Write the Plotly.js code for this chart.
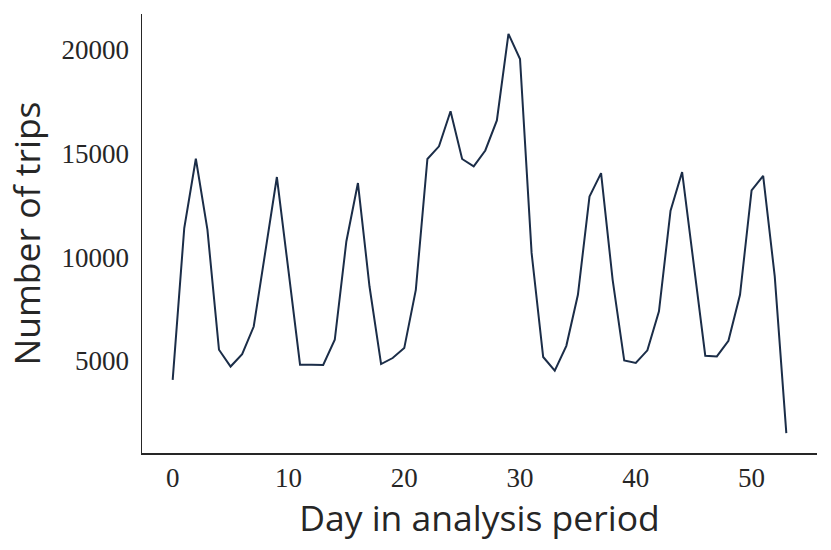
<!DOCTYPE html>
<html>
<head>
<meta charset="utf-8">
<script src="https://cdn.plot.ly/plotly-3.0.1.min.js"></script>
<style>html,body{margin:0;padding:0;background:#fff;}#chart{width:831px;height:550px;}</style>
</head>
<body>
<div id="chart"></div>
<script>
const days = [];
for (let i = 0; i <= 53; i++) days.push(i);
const trips = [
  4080, 11400, 14740, 11320, 5530, 4720, 5320, 6650, 10250, 13860,
  9340, 4810, 4810, 4800, 6010, 10750, 13570, 8580, 4840, 5130,
  5610, 8420, 14730, 15340, 17030, 14730, 14370, 15140, 16590, 20760,
  19550, 10200, 5180, 4520, 5720, 8180, 12920, 14050, 8900, 5010,
  4890, 5500, 7380, 12240, 14100, 9550, 5240, 5210, 5960, 8180,
  13210, 13920, 9070, 1510
];
const xTickVals = [0, 10, 20, 30, 40, 50];
const yTickVals = [5000, 10000, 15000, 20000];
const xLabel = "Day in analysis period";
const yLabel = "Number of trips";

const trace = {
  x: days, y: trips, type: 'scatter', mode: 'lines',
  line: {color: '#1b2d48', width: 2},
  hoverinfo: 'skip'
};
const tickFont = {family: '"Liberation Serif", "DejaVu Serif", serif', size: 27, color: '#262626'};
const titleFont = {family: '"Open Sans", "Noto Sans", sans-serif', size: 35.5, color: '#262626'};
const layout = {
  width: 831, height: 550,
  margin: {l: 142, r: 14, t: 14, b: 97},
  paper_bgcolor: '#fff', plot_bgcolor: '#fff',
  showlegend: false,
  xaxis: {
    range: [-2.65, 55.65], tickvals: xTickVals, ticktext: xTickVals.map(String),
    showgrid: false, zeroline: false, showline: true, linecolor: '#262626', linewidth: 1.5,
    ticks: '', tickfont: tickFont, ticklabelstandoff: 0,
    title: {text: xLabel, font: titleFont, standoff: 4}
  },
  yaxis: {
    range: [550, 21722], tickvals: yTickVals, ticktext: yTickVals.map(String),
    showgrid: false, zeroline: false, showline: true, linecolor: '#262626', linewidth: 1.5,
    ticks: '', tickfont: tickFont, ticklabelstandoff: 6,
    title: {text: yLabel, font: titleFont, standoff: 10}
  }
};
Plotly.newPlot('chart', [trace], layout, {displayModeBar: false, staticPlot: true});
</script>
</body>
</html>
